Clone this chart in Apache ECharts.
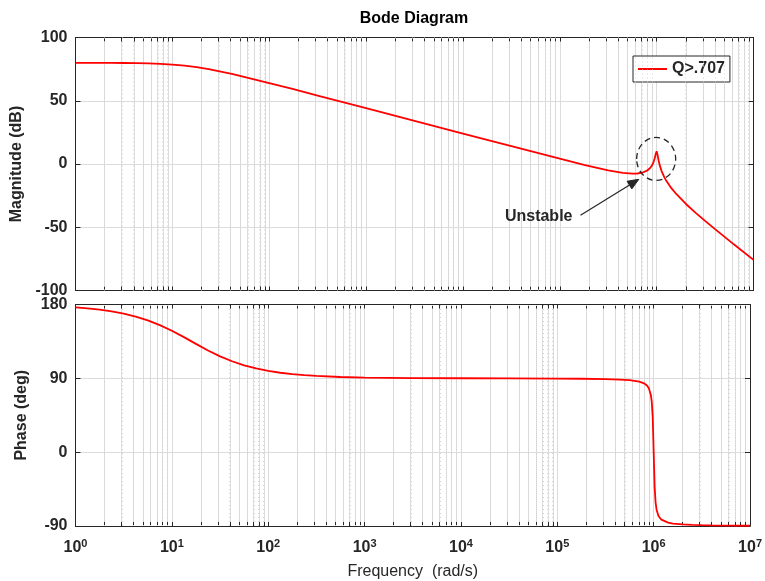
<!DOCTYPE html>
<html><head><meta charset="utf-8">
<script src="https://cdn.jsdelivr.net/npm/echarts@6/dist/echarts.min.js"></script>
<style>html,body{margin:0;padding:0;background:#fff}#c{width:765px;height:581px}</style>
</head><body><div id="c"></div>
<script>
// frequency as log10(rad/s)
const logFreq = [0, 0.125, 0.25, 0.375, 0.5, 0.625, 0.75, 0.875, 1, 1.125, 1.25, 1.375, 1.5, 1.625, 1.75, 1.875, 2, 2.125, 2.25, 2.375, 2.5, 2.75, 3, 3.5, 4, 4.5, 5, 5.25, 5.5, 5.65, 5.75, 5.8, 5.85, 5.9, 5.93, 5.95, 5.97, 5.98, 5.99, 6, 6.01, 6.02, 6.03, 6.05, 6.08, 6.1, 6.15, 6.2, 6.3, 6.4, 6.5, 6.6, 6.8, 7];
const magnitudeDb = [80.0, 79.97, 79.95, 79.91, 79.83, 79.71, 79.5, 79.14, 78.6, 77.7, 76.5, 74.95, 73.1, 71.0, 68.7, 66.4, 64.0, 61.5, 59.1, 56.6, 54.1, 49.1, 44.1, 34.1, 24.1, 14.1, 4.2, -0.6, -5.0, -7.0, -7.6, -7.5, -6.9, -5.3, -3.4, -1.4, 1.9, 4.5, 7.8, 10.1, 7.0, 2.9, -0.5, -5.4, -10.6, -13.3, -18.9, -23.5, -31.4, -38.4, -45.0, -51.3, -63.7, -75.8];
const phaseDeg = [176.4, 175.2, 173.7, 171.6, 168.8, 165.2, 160.6, 154.9, 148.0, 140.2, 132.0, 124.0, 116.8, 110.8, 105.9, 102.0, 99.1, 96.8, 95.1, 93.9, 92.9, 91.6, 90.9, 90.3, 90.1, 90.0, 89.7, 89.5, 89.0, 88.4, 87.7, 87.0, 85.9, 83.9, 81.2, 77.8, 70.1, 61.5, 42.7, 0, -42.6, -61.5, -70.1, -77.8, -82.3, -83.9, -85.9, -87.0, -88.1, -88.7, -89.0, -89.2, -89.5, -89.7];
const decadeTicks = [0, 1, 2, 3, 4, 5, 6, 7];
const minorMultipliers = [2, 3, 4, 5, 6, 7, 8, 9];
const seriesName = 'Q>.707';
const titleText = 'Bode Diagram';
const magName = 'Magnitude (dB)';
const phaseName = 'Phase (deg)';
const freqName = 'Frequency  (rad/s)';
const annotationText = 'Unstable';

const minorPositions = [];
for (let d = 0; d < decadeTicks.length - 1; d++) {
  for (const m of minorMultipliers) minorPositions.push(decadeTicks[d] + Math.log10(m));
}
const allXTicks = decadeTicks.concat(minorPositions);

const FONT = '"Liberation Sans", Arial, sans-serif';
const AX = '#262626';
const RED = '#ff0000';
const MAJOR_GRID = '#dcdcdc';
const MINOR_GRID = '#d2d2d2';

function xAxisDef(gridIndex, position, withLabels) {
  const ax = {
    type: 'value', gridIndex, position, min: 0, max: 7, interval: 1,
    axisLine: { show: true, onZero: false, lineStyle: { color: AX, width: 1 } },
    axisTick: { show: true, inside: true, length: 4, customValues: allXTicks, lineStyle: { color: AX } },
    axisLabel: { show: false },
    splitLine: { show: position === 'bottom', lineStyle: { color: MAJOR_GRID, width: 1 } }
  };
  if (withLabels) {
    ax.axisLabel = {
      show: true, margin: 12, color: AX, fontFamily: FONT,
      formatter: v => '{b|10}{s|' + v + '}',
      rich: {
        b: { fontSize: 16, fontWeight: 'bold', fontFamily: FONT, color: AX },
        s: { fontSize: 11, fontWeight: 'bold', fontFamily: FONT, color: AX, padding: [0, 0, 9, 0] }
      }
    };
    ax.name = freqName;
    ax.nameLocation = 'middle';
    ax.nameGap = 38;
    ax.nameTextStyle = { fontSize: 16, fontFamily: FONT, color: AX };
  }
  return ax;
}
function yAxisDef(gridIndex, position, min, max, interval, name, nameGap) {
  const left = position === 'left';
  return {
    type: 'value', gridIndex, position, min, max, interval,
    axisLine: { show: true, onZero: false, lineStyle: { color: AX, width: 1 } },
    axisTick: { show: true, inside: true, length: 5, lineStyle: { color: AX } },
    axisLabel: { show: left, margin: 8, fontSize: 16, fontWeight: 'bold', fontFamily: FONT, color: AX },
    splitLine: { show: left, lineStyle: { color: MAJOR_GRID, width: 1 } },
    name: left ? name : '', nameLocation: 'middle', nameGap,
    nameTextStyle: { fontSize: 16, fontWeight: 'bold', fontFamily: FONT, color: AX }
  };
}
function minorGridSeries(xi, yi) {
  return {
    type: 'line', name: '__minor' + xi, xAxisIndex: xi, yAxisIndex: yi, data: [], z: 1, silent: true,
    markLine: { silent: true, symbol: ['none', 'none'], label: { show: false }, animation: false,
      lineStyle: { color: MINOR_GRID, type: [1, 3], width: 1 },
      emphasis: { disabled: true },
      data: minorPositions.map(v => ({ xAxis: v })) }
  };
}

const chart = echarts.init(document.getElementById('c'), null, { renderer: 'canvas' });
chart.setOption({
  animation: false,
  backgroundColor: '#fff',
  textStyle: { fontFamily: FONT },
  grid: [
    { left: 75.5, top: 37.5, width: 678, height: 253, containLabel: false },
    { left: 75.5, top: 304.5, width: 678, height: 221.5, containLabel: false }
  ],
  legend: {
    data: [seriesName], left: 633, top: 56, orient: 'vertical',
    padding: [5, 5, 5, 5], itemWidth: 29, itemHeight: 2, itemGap: 0, icon: 'rect',
    borderColor: AX, borderWidth: 1, backgroundColor: '#fff', borderRadius: 0,
    textStyle: { fontSize: 16, fontWeight: 'bold', fontFamily: FONT, color: AX, lineHeight: 16 }
  },
  xAxis: [xAxisDef(0, 'bottom', false), xAxisDef(0, 'top', false), xAxisDef(1, 'bottom', true), xAxisDef(1, 'top', false)],
  yAxis: [
    yAxisDef(0, 'left', -100, 100, 50, magName, 34),
    yAxisDef(0, 'right', -100, 100, 50, '', 0),
    yAxisDef(1, 'left', -90, 180, 90, phaseName, 29),
    yAxisDef(1, 'right', -90, 180, 90, '', 0)
  ],
  series: [
    minorGridSeries(0, 0),
    minorGridSeries(2, 2),
    {
      type: 'line', name: seriesName, xAxisIndex: 0, yAxisIndex: 0, z: 5,
      data: logFreq.map((x, i) => [x, magnitudeDb[i]]),
      showSymbol: false, symbol: 'none', color: RED,
      lineStyle: { color: RED, width: 1.8 }
    },
    {
      type: 'line', name: seriesName, xAxisIndex: 2, yAxisIndex: 2, z: 5,
      data: logFreq.map((x, i) => [x, phaseDeg[i]]),
      showSymbol: false, symbol: 'none', color: RED,
      lineStyle: { color: RED, width: 1.8 }
    }
  ]
});

// annotations placed in data coordinates of the magnitude plot
const circleCenter = [5.995, 4];
const arrowTail = [5.214, -40.5];
const arrowTip = [5.816, -12.1];
const labelAnchor = [5.131, -41.7];

const px = p => chart.convertToPixel({ gridIndex: 0 }, p);
const c = px(circleCenter), t = px(arrowTail), h = px(arrowTip), la = px(labelAnchor);
const dx = h[0] - t[0], dy = h[1] - t[1], len = Math.hypot(dx, dy);
const ux = dx / len, uy = dy / len, nx = -uy, ny = ux;
const HL = 11, HW = 4.5;
const base = [h[0] - ux * HL, h[1] - uy * HL];

chart.setOption({
  graphic: [
    { type: 'text', x: 414, y: 19, silent: true,
      style: { text: titleText, fontSize: 16, fontWeight: 'bold', fontFamily: FONT, fill: '#000', align: 'center', verticalAlign: 'middle' } },
    { type: 'ellipse', silent: true, z: 10,
      shape: { cx: c[0], cy: c[1], rx: 19.5, ry: 21.5 },
      style: { fill: 'none', stroke: AX, lineWidth: 1.3, lineDash: [6, 4] } },
    { type: 'line', silent: true, z: 10,
      shape: { x1: t[0], y1: t[1], x2: base[0] + ux * 2, y2: base[1] + uy * 2 },
      style: { stroke: AX, lineWidth: 1.2 } },
    { type: 'polygon', silent: true, z: 10,
      shape: { points: [h, [base[0] + nx * HW, base[1] + ny * HW], [base[0] - nx * HW, base[1] - ny * HW]] },
      style: { fill: AX, stroke: AX, lineWidth: 1 } },
    { type: 'text', silent: true, z: 10, x: la[0], y: la[1],
      style: { text: annotationText, fontSize: 16, fontWeight: 'bold', fontFamily: FONT, fill: AX, align: 'right', verticalAlign: 'middle' } }
  ]
});
</script>
</body></html>
